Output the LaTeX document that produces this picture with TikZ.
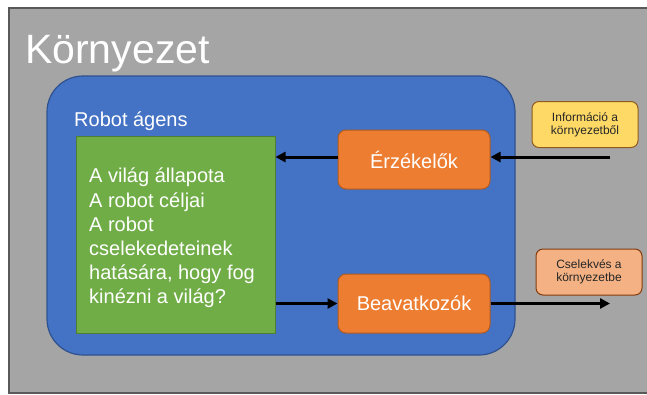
\documentclass[tikz,border=0pt]{standalone}
\usepackage{fontspec}
\setmainfont{Liberation Sans}
\usetikzlibrary{arrows.meta}
\definecolor{envgray}{HTML}{A5A5A5}
\definecolor{envedge}{HTML}{595959}
\definecolor{agentblue}{HTML}{4472C4}
\definecolor{agentedge}{HTML}{2F528F}
\definecolor{kbgreen}{HTML}{70AD47}
\definecolor{kbedge}{HTML}{507E32}
\definecolor{unitorange}{HTML}{ED7D31}
\definecolor{unitedge}{HTML}{AE5A21}
\definecolor{infoyellow}{HTML}{FFD966}
\definecolor{infoedge}{HTML}{8F5A1F}
\definecolor{actpeach}{HTML}{F4B183}
\definecolor{actedge}{HTML}{843C0C}
\tikzset{
  px/.style={x=1pt,y=-1pt},
  unitbox/.style={draw=unitedge, fill=unitorange, line width=1pt, rounded corners=8pt,
    minimum width=152pt, minimum height=59pt, inner sep=0pt, text=white,
    font=\fontsize{20}{24}\selectfont},
  notebox/.style={line width=1pt, rounded corners=7pt, minimum width=106pt,
    minimum height=46pt, inner sep=0pt, align=center, text=black!85,
    font=\fontsize{12}{13}\selectfont},
  flow/.style={line width=3pt, -{Triangle[length=10pt,width=10pt]}},
}
\begin{document}
\begin{tikzpicture}[px]
  \useasboundingbox (0,0) rectangle (647,394);
  \fill[white] (0,0) rectangle (647,394);
  % environment
  \draw[fill=envgray, draw=envedge, line width=1.2pt] (9,8) rectangle (660,393);
  \node[anchor=base west, inner sep=0pt, text=white, font=\fontsize{41}{41}\selectfont]
    (env) at (25,63) {Környezet};
  % agent
  \node[draw=agentedge, fill=agentblue, line width=1.2pt, rounded corners=36pt,
        minimum width=468pt, minimum height=279pt, inner sep=0pt]
    (agent) at (281,215.5) {};
  \node[anchor=base west, inner sep=0pt, text=white, font=\fontsize{20}{24}\selectfont]
    (agentlabel) at (74,126) {Robot ágens};
  % knowledge box
  \node[draw=kbedge, fill=kbgreen, line width=1pt, minimum width=199pt,
        minimum height=197pt, inner sep=0pt] (kb) at (175.5,234.5) {};
  \node[anchor=north west, inner sep=0pt, text=white, align=left,
        font=\fontsize{20}{24.2}\selectfont] (kbtext) at (89,168)
    {A világ állapota\\A robot céljai\\A robot\\cselekedeteinek\\hatására, hogy fog\\kinézni a világ?};
  % sensors and actuators
  \node[unitbox] (sens) at (414,159.5) {Érzékelők};
  \node[unitbox] (act) at (414,303.5) {Beavatkozók};
  % notes outside the agent
  \node[notebox, draw=infoedge, fill=infoyellow] (info) at (585,124.5)
    {Információ a\\környezetből};
  \node[notebox, draw=actedge, fill=actpeach] (deed) at (589,272)
    {Cselekvés a\\környezetbe};
  % flows
  \coordinate (percept) at (610,157);
  \coordinate (effect) at (610,303.5);
  \draw[flow] (percept) -- (percept -| sens.east);
  \draw[flow] (sens.west |- 0,157) -- (kb.east |- 0,157);
  \draw[flow] (kb.east |- 0,303.5) -- (act.west);
  \draw[flow] (act.east) -- (effect);
\end{tikzpicture}
\end{document}
